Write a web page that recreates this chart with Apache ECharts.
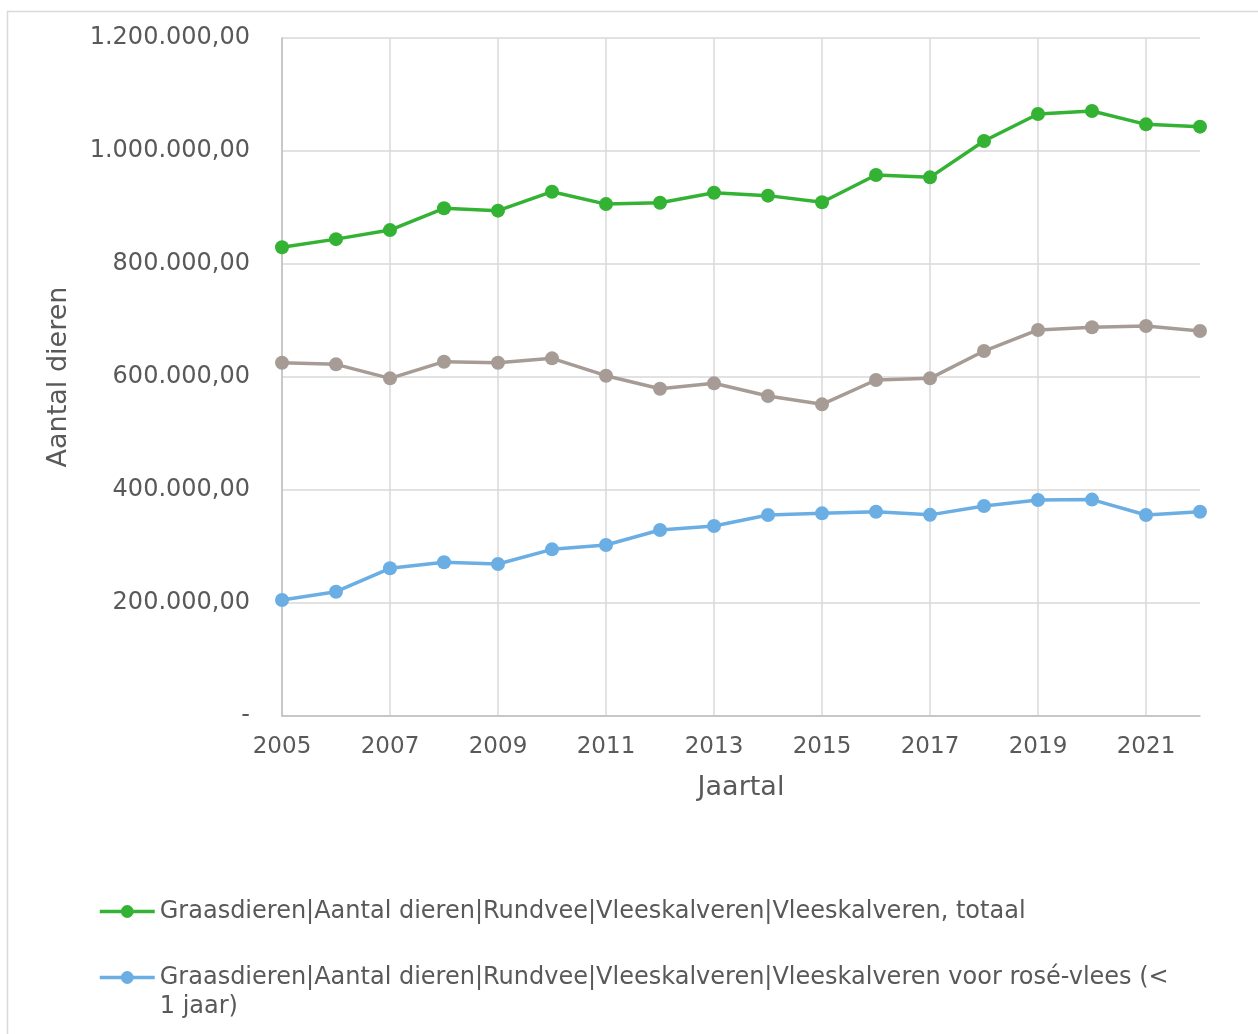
<!DOCTYPE html>
<html>
<head>
<meta charset="utf-8">
<script src="https://cdn.jsdelivr.net/npm/echarts@6/dist/echarts.min.js"></script>
<style>
html,body{margin:0;padding:0;background:#fff;}
#chart{width:1258px;height:1034px;}
</style>
</head>
<body>
<div id="chart"></div>
<script>
const years = ['2005','2006','2007','2008','2009','2010','2011','2012','2013','2014','2015','2016','2017','2018','2019','2020','2021','2022'];
const nameTotaal = 'Graasdieren|Aantal dieren|Rundvee|Vleeskalveren|Vleeskalveren, totaal';
const nameRose = 'Graasdieren|Aantal dieren|Rundvee|Vleeskalveren|Vleeskalveren voor rosé-vlees (< 1 jaar)';
const nameBlank = 'Graasdieren|Aantal dieren|Rundvee|Vleeskalveren|Vleeskalveren voor blank vlees';
const totaal = [829600, 844000, 860000, 898600, 894400, 928000, 906000, 908500, 926200, 921000, 909200, 957500, 953400, 1017700, 1065500, 1070800, 1047200, 1043100];
const blank = [625300, 622400, 597600, 627100, 625300, 633000, 602300, 579300, 588800, 566400, 551600, 594700, 597600, 646000, 683200, 688000, 690300, 681400];
const rose = [205300, 220000, 261400, 272000, 269000, 295000, 302700, 329200, 336300, 355700, 358700, 361600, 356000, 371700, 382300, 383000, 355700, 361600];
const yMin = 0, yMax = 1200000, yStep = 200000;

const textColor = '#595959';
const font = 'DejaVu Sans';

function fmt(v) {
  if (v === 0) return '-';
  const s = Math.round(v).toString().replace(/\B(?=(\d{3})+(?!\d))/g, '.');
  return s + ',00';
}

const chart = echarts.init(document.getElementById('chart'), null, {renderer: 'canvas'});
const mk = (name, data, color) => ({
  name: name, type: 'line', data: data,
  symbol: 'circle', symbolSize: 14,
  lineStyle: {width: 3.5, color: color},
  itemStyle: {color: color},
  emphasis: {disabled: true},
  animation: false
});
const legendBase = {
  left: 98, padding: 0,
  itemWidth: 55, itemHeight: 16,
  selectedMode: false,
  lineStyle: {width: 3.5},
  itemStyle: {borderWidth: 0}
};
chart.setOption({
  backgroundColor: '#fff',
  animation: false,
  textStyle: {fontFamily: font},
  graphic: [{
    type: 'rect', left: 5, top: 9, silent: true,
    shape: {width: 1300, height: 1100},
    style: {fill: 'none', stroke: '#d9d9d9', lineWidth: 1.5}
  }],
  grid: {left: 282, top: 38, right: 58, bottom: 318, containLabel: false},
  legend: [Object.assign({}, legendBase, {
    data: [nameTotaal],
    top: 897,
    textStyle: {fontFamily: font, fontSize: 24, color: textColor, lineHeight: 29}
  }), Object.assign({}, legendBase, {
    data: [nameRose],
    top: 934,
    formatter: name => '\n' + name.replace(' 1 jaar)', '\n1 jaar)'),
    textStyle: {fontFamily: font, fontSize: 24, color: textColor, lineHeight: 29}
  })],
  xAxis: {
    type: 'category', data: years, boundaryGap: false,
    name: 'Jaartal', nameLocation: 'middle', nameGap: 58,
    nameTextStyle: {fontFamily: font, fontSize: 27, color: textColor},
    axisLine: {show: true, lineStyle: {color: '#bfbfbf', width: 1.5}},
    axisTick: {show: false},
    axisLabel: {interval: 1, margin: 20, fontFamily: font, fontSize: 23, color: textColor},
    splitLine: {show: true, interval: 1, lineStyle: {color: '#d9d9d9', width: 1.5}}
  },
  yAxis: {
    type: 'value', min: yMin, max: yMax, interval: yStep,
    name: 'Aantal dieren', nameLocation: 'middle', nameGap: 210, nameRotate: 90,
    nameTextStyle: {fontFamily: font, fontSize: 27, color: textColor},
    axisLine: {show: true, lineStyle: {color: '#bfbfbf', width: 1.5}},
    axisTick: {show: false},
    axisLabel: {margin: 32, fontFamily: font, fontSize: 24, color: textColor, formatter: fmt},
    splitLine: {show: true, lineStyle: {color: '#d9d9d9', width: 1.5}}
  },
  series: [
    mk(nameTotaal, totaal, '#34b233'),
    mk(nameRose, rose, '#6aaee4'),
    mk(nameBlank, blank, '#a69c95')
  ]
});
</script>
</body>
</html>
